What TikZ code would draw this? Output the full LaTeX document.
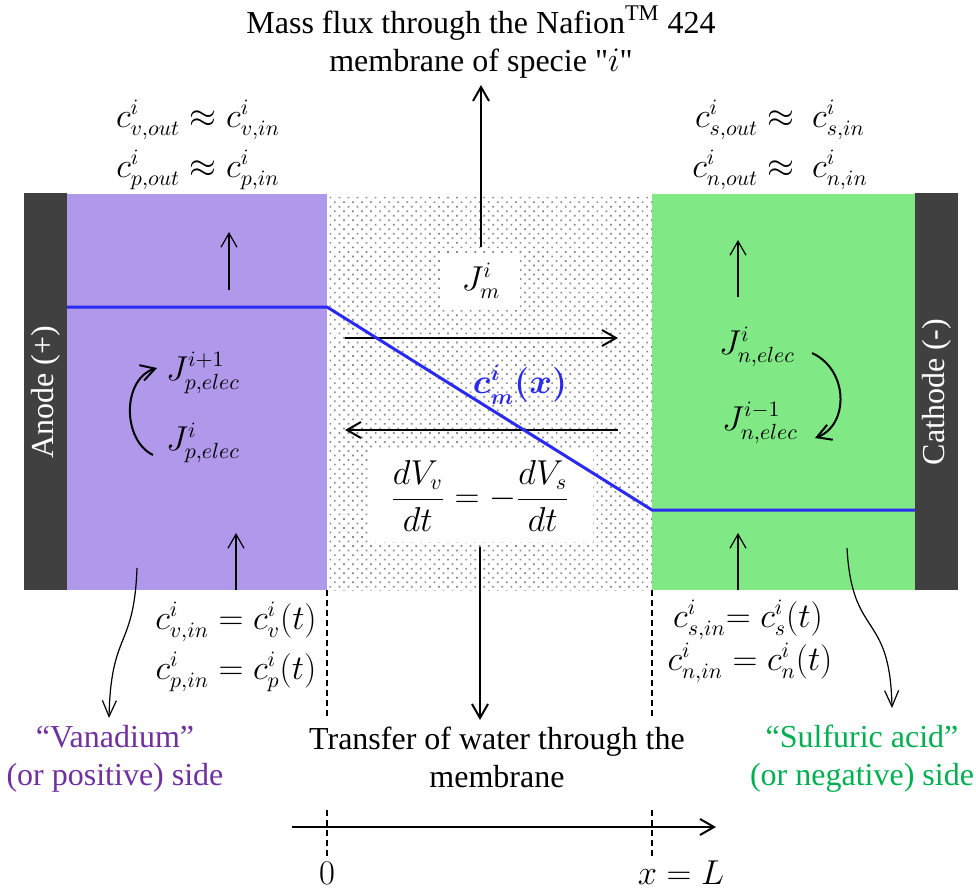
\documentclass[tikz,border=0pt]{standalone}
\usepackage{amsmath}
\usepackage{fontspec}
\setmainfont{Liberation Serif}
\usetikzlibrary{arrows.meta,patterns.meta}

\definecolor{electrode}{HTML}{404040}
\definecolor{posside}{HTML}{B098EA}
\definecolor{negside}{HTML}{80E884}
\definecolor{postext}{HTML}{7030A0}
\definecolor{negtext}{HTML}{00B050}
\definecolor{profile}{HTML}{2B2BF0}
\definecolor{dotgray}{HTML}{8A8A8A}

\begin{document}
\begin{tikzpicture}[x=.5pt,y=-.5pt,>={Straight Barb[length=7pt,width=8pt]},
  font=\fontsize{16}{19}\selectfont,
  flow/.style={->,line width=1pt},
  feed/.style={->,line width=.6pt},
  guide/.style={dash pattern=on 3pt off 2pt,line width=.6pt},
  whitebox/.style={fill=white,inner sep=0pt}]
  \useasboundingbox (0,0) rectangle (976,890);
  % cell: electrodes, half-cells and membrane
  \fill[electrode] (24,193) rectangle (67,590);
  \fill[electrode] (915,193) rectangle (958,590);
  \fill[posside] (67,194) rectangle (327,590);
  \fill[negside] (652,194) rectangle (915,590);
  \fill[pattern={Dots[distance=3.2pt,angle=45,radius=.6pt]},pattern color=dotgray] (327,194) rectangle (652,590);
  \node[rotate=90,text=white] (anode) at (46,392) {Anode (+)};
  \node[rotate=90,text=white] (cathode) at (937,392) {Cathode (-)};

  % membrane fluxes
  \node[align=center,anchor=south] (flux) at (481,85) {Mass flux through the Nafion\textsuperscript{TM} 424\\membrane of specie \textquotedbl$i$\textquotedbl};
  \node[whitebox,minimum width=39pt,minimum height=28.5pt] (jm) at (481,281) {$J^i_m$};
  \node[whitebox,minimum width=112.5pt,minimum height=46pt] (dv) at (480,496) {$\dfrac{dV_v}{dt}=-\dfrac{dV_s}{dt}$};
  \node[align=center,anchor=north] (transfer) at (497,720) {Transfer of water through the\\membrane};
  \draw[flow] ([yshift=2.5pt]jm.north) -- (flux.south);
  \draw[flow] ([yshift=-2.5pt]dv.south) -- (dv.south |- transfer.north);
  \coordinate (fwdA) at (345,338);
  \coordinate (fwdB) at (618,338);
  \coordinate (bwdA) at (618,430);
  \coordinate (bwdB) at (345,430);
  \draw[flow] (fwdA) -- (fwdB);
  \draw[flow] (bwdA) -- (bwdB);

  % concentration profile
  \draw[profile,line width=1.5pt] (67,307) -- (327,307) -- (652,510) -- (915,510);
  \node[text=profile] (cm) at (520,385) {$\boldsymbol{c^i_m(x)}$};

  % positive side
  \node (vout) at (198,120) {$c^i_{v,out}\approx c^i_{v,in}$};
  \node (pout) at (198,170) {$c^i_{p,out}\approx c^i_{p,in}$};
  \node (jp1) at (203,373) {$J^{i+1}_{p,elec}$};
  \node (jp) at (203,443) {$J^{i}_{p,elec}$};
  \coordinate (pcurlA) at (153,455);
  \coordinate (pcurlB) at (157,368);
  \draw[flow] (pcurlA) .. controls (122,440) and (122,379) .. (pcurlB);
  \draw[feed] (229,290) -- (229,232);
  \draw[feed] (236,590) -- (236,533);
  \node (vin) at (236,622) {$c^i_{v,in}=c^i_v(t)$};
  \node (pin) at (236,672) {$c^i_{p,in}=c^i_p(t)$};

  % negative side
  \node (sout) at (780,120) {$c^i_{s,out}\approx\ c^i_{s,in}$};
  \node (nout) at (780,170) {$c^i_{n,out}\approx\ c^i_{n,in}$};
  \node (jn) at (757,347) {$J^{i}_{n,elec}$};
  \node (jn1) at (760,423) {$J^{i-1}_{n,elec}$};
  \coordinate (ncurlA) at (812,353);
  \coordinate (ncurlB) at (815,438);
  \draw[flow] (ncurlA) .. controls (849,370) and (849,425) .. (ncurlB);
  \draw[feed] (738,297) -- (738,240);
  \draw[feed] (738,590) -- (738,533);
  \node (sin) at (748,620) {$c^i_{s,in}{=}\;c^i_s(t)$};
  \node (nin) at (750,663) {$c^i_{n,in}=c^i_n(t)$};

  % side labels
  \node[align=center,anchor=north,text=postext] (vanadium) at (115,718) {``Vanadium''\\(or positive) side};
  \node[align=center,anchor=north,text=negtext] (sulfuric) at (862,718) {``Sulfuric acid''\\(or negative) side};
  \coordinate (vtail) at (137,568);
  \coordinate (stail) at (847,548);
  \draw[feed,>={Straight Barb[length=8pt,width=7pt]}] (vtail) .. controls (134,650) and (111,630) .. ([xshift=-3pt]vanadium.north);
  \draw[feed,>={Straight Barb[length=8pt,width=7pt]}] (stail) .. controls (852,640) and (890,610) .. ([xshift=15pt,yshift=5pt]sulfuric.north);

  % x axis
  \draw[guide] (327,590) -- (327,717);
  \draw[guide] (652,590) -- (652,717);
  \draw[flow] (292,827) -- (716,827);
  \draw[guide] (327,810) -- (327,858);
  \draw[guide] (652,810) -- (652,858);
  \node (zero) at (327,873) {$0$};
  \node (xL) at (681,873) {$x=L$};
\end{tikzpicture}
\end{document}
